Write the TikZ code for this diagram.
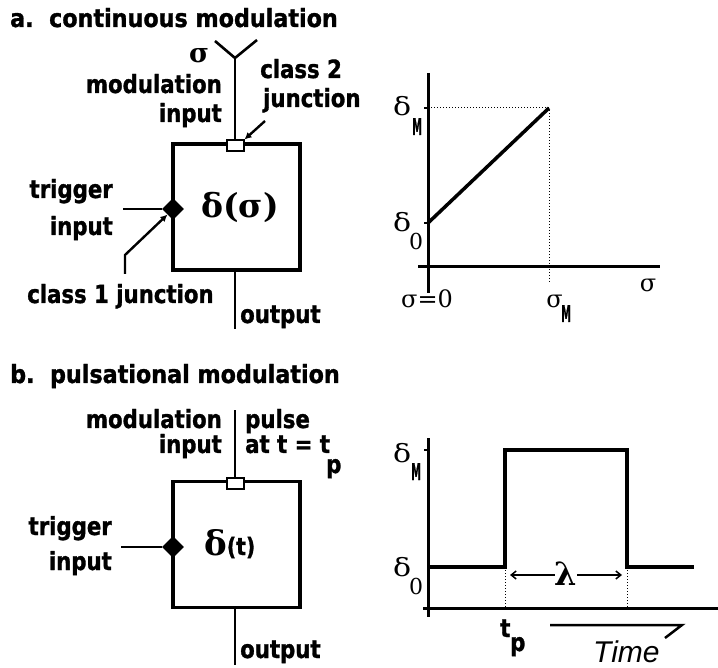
\documentclass[tikz,border=0pt]{standalone}
\usepackage{fontspec}
\setmainfont{DejaVu Sans}
\newfontfamily\lblfont[FakeStretch=0.85,FakeBold=1.2]{DejaVu Sans}
\newfontfamily\ttlfont[FakeStretch=0.89,FakeBold=1.2]{DejaVu Sans}
\newfontfamily\grk{DejaVu Serif}
\newfontfamily\lsans{Liberation Sans}
\usetikzlibrary{shapes.geometric,arrows.meta,calc}
\newcommand{\subM}{\scalebox{0.5}[1]{\fontsize{23}{23}\selectfont\lblfont\bfseries M}}
\newcommand{\subZ}{{\fontsize{22}{22}\selectfont\grk 0}}
\begin{document}
\begin{tikzpicture}[x=1pt,y=-1pt,
  lbl/.style={inner sep=0pt,font=\fontsize{25}{26}\selectfont\lblfont\bfseries},
  ttl/.style={inner sep=0pt,font=\fontsize{25}{26}\selectfont\ttlfont\bfseries},
  glbl/.style={inner sep=0pt,font=\fontsize{24}{24}\selectfont\grk},
  dlbl/.style={inner sep=0pt,font=\fontsize{25}{25}\selectfont\grk},
  blk/.style={draw,line width=3.5pt,minimum width=127pt,minimum height=126pt,inner sep=0pt},
  jsq/.style={draw,fill=white,line width=2pt,minimum width=17pt,minimum height=11pt,inner sep=0pt},
  jdia/.style={diamond,fill=black,minimum size=22pt,inner sep=0pt},
  wire/.style={line width=2.6pt},
  thinwire/.style={line width=2.2pt},
  axis/.style={line width=3pt},
  curve/.style={line width=3.5pt},
  dots/.style={line width=1pt,dotted},
  ptr/.style={line width=2.4pt,-{Latex[length=7pt,width=7pt]}},
  lam/.style={line width=1.5pt,-{Straight Barb[length=5pt,width=8pt]}}]
\useasboundingbox (0,0) rectangle (718,668);

% ---------------- panel a ----------------
\node[ttl,anchor=base west] (ta) at (10,27) {a.\ \ continuous modulation};
\node[blk] (boxa) at (236.5,207) {};
\node[inner sep=0pt,font=\fontsize{33}{33}\selectfont\grk\bfseries] (fa) at (240,207) {δ(σ)};
\node[jsq] (sqa) at (235,146) {};
\node[jdia] (dia) at (173,209) {};
\coordinate (ya) at (235,58);
\coordinate (yl) at (215,41);
\coordinate (yr) at (257,40);
\draw[wire] (sqa.north) -- (ya);
\draw[wire] (yl) -- (ya) -- (yr);
\node[inner sep=0pt,anchor=base,font=\fontsize{27}{27}\selectfont\grk\bfseries] (siga) at (199,63) {σ};
\node[lbl,anchor=base east] (moda) at (222,93) {modulation};
\node[lbl,anchor=base east] (inpa) at (222,122) {input};
\node[lbl,anchor=base west] (c2a) at (260,78) {class 2};
\node[lbl,anchor=base west] (c2b) at (263,107) {junction};
\coordinate (c2s) at (265,121);
\draw[ptr] (c2s) -- (sqa.north east);
\coordinate (trga) at (123,209);
\draw[wire] (trga) -- (dia.west);
\node[lbl,anchor=base east] (trg1) at (113,198) {trigger};
\node[lbl,anchor=base east] (trg2) at (113,235) {input};
\coordinate (c1s) at (125,274);
\coordinate (c1m) at (125,255);
\draw[ptr] (c1s) -- (c1m) -- (dia.south west);
\node[lbl,anchor=base west] (c1) at (27,303) {class 1 junction};
\coordinate (outa) at (235,329);
\draw[thinwire] (boxa.south -| sqa) -- (outa);
\node[lbl,anchor=base west] (outl) at (240,323) {output};

% graph a
\coordinate (oa) at (428,267);
\coordinate (vat) at (428,73);
\coordinate (vab) at (428,293);
\coordinate (hal) at (418,267);
\coordinate (har) at (660,267);
\coordinate (d0a) at (428,223);
\coordinate (dma) at (428,108);
\coordinate (pma) at (549,108);
\coordinate (sma) at (549,283);
\draw[axis] (vat) -- (vab);
\draw[axis] (hal) -- (har);
\draw[line width=1.5pt] ($(dma)+(-4,0)$) -- (dma);
\draw[line width=1.5pt] ($(d0a)+(-4,0)$) -- (d0a);
\draw[dots] (dma) -- (pma) -- (sma);
\draw[curve] (d0a) -- (pma);
\node[dlbl,anchor=base west] (dMa) at (393,116) {\scalebox{1.2}[1]{δ}};
\node[inner sep=0pt,anchor=base west] (dMas) at (412,135) {\subM};
\node[dlbl,anchor=base west] (d0l) at (393,232) {\scalebox{1.2}[1]{δ}};
\node[inner sep=0pt,anchor=base west] (d0s) at (409,250) {\subZ};
\node[glbl,anchor=base] (s0) at (427,308) {σ=0};
\node[glbl,anchor=base east] (sM) at (563,308) {σ};
\node[inner sep=0pt,anchor=base west] (sMs) at (561,322) {\subM};
\node[glbl,anchor=base] (sax) at (648,292) {σ};

% ---------------- panel b ----------------
\node[ttl,anchor=base west] (tb) at (10,383) {b.\ \ pulsational modulation};
\node[blk] (boxb) at (236.5,544.5) {};
\node[jsq] (sqb) at (235,483) {};
\node[jdia] (dib) at (173,547) {};
\node[inner sep=0pt,anchor=base west] (fb) at (204,555) {{\fontsize{34}{34}\selectfont\grk\bfseries δ}{\fontsize{24}{24}\selectfont\lblfont\bfseries (t)}};
\coordinate (yb) at (235,410);
\draw[thinwire] (sqb.north) -- (yb);
\node[lbl,anchor=base east] (modb) at (222,428) {modulation};
\node[lbl,anchor=base east] (inpb) at (222,453) {input};
\node[lbl,anchor=base west] (pul) at (245,428) {pulse};
\node[lbl,anchor=base west] (att) at (245,453) {at t = t};
\node[lbl,anchor=base west] (attp) at (326,473) {p};
\coordinate (trgb) at (121,547);
\draw[wire] (trgb) -- (dib.west);
\node[lbl,anchor=base east] (trg3) at (112,535) {trigger};
\node[lbl,anchor=base east] (trg4) at (112,570) {input};
\coordinate (outb) at (235,665);
\draw[thinwire] (boxb.south -| sqb) -- (outb);
\node[lbl,anchor=base west] (outlb) at (240,658) {output};

% graph b
\coordinate (vbt) at (428,438);
\coordinate (vbb) at (428,617);
\coordinate (hbl) at (423,608);
\coordinate (hbr) at (718,608);
\coordinate (dmb) at (428,450);
\coordinate (d0b) at (428,567);
\coordinate (p1) at (505,567);
\coordinate (p2) at (505,450);
\coordinate (p3) at (627,450);
\coordinate (p4) at (627,567);
\coordinate (p5) at (694,567);
\coordinate (q1) at (505,608);
\coordinate (q4) at (627,608);
\draw[axis] (vbt) -- (vbb);
\draw[axis] (hbl) -- (hbr);
\draw[line width=1.5pt] ($(dmb)+(-4,0)$) -- (dmb);
\draw[dots] (p1) -- (q1);
\draw[dots] (p4) -- (q4);
\draw[curve] (d0b) -- (p1) -- (p2) -- (p3) -- (p4) -- (p5);
\node[inner sep=0pt,font=\fontsize{32}{32}\selectfont\grk\bfseries] (lam) at (566,574) {λ};
\coordinate (la) at (510,575);
\coordinate (lb) at (622,575);
\draw[lam] (lam.west |- la) -- (la);
\draw[lam] (lam.east |- lb) -- (lb);
\node[dlbl,anchor=base west] (dMb) at (393,462) {\scalebox{1.2}[1]{δ}};
\node[inner sep=0pt,anchor=base west] (dMbs) at (411,480) {\subM};
\node[dlbl,anchor=base west] (d0bl) at (393,576) {\scalebox{1.2}[1]{δ}};
\node[inner sep=0pt,anchor=base west] (d0bs) at (409,594) {\subZ};
\node[lbl,anchor=base west] (tp) at (500,637) {t};
\node[lbl,anchor=base west] (tps) at (510,651) {p};
\coordinate (tl1) at (550,625);
\coordinate (tl2) at (682,625);
\coordinate (tl3) at (665,638);
\draw[line width=2.5pt] (tl1) -- (tl2) -- (tl3);
\node[inner sep=0pt,anchor=base west,font=\fontsize{30}{30}\selectfont\lsans\itshape] (time) at (593,662) {Time};
\end{tikzpicture}
\end{document}
